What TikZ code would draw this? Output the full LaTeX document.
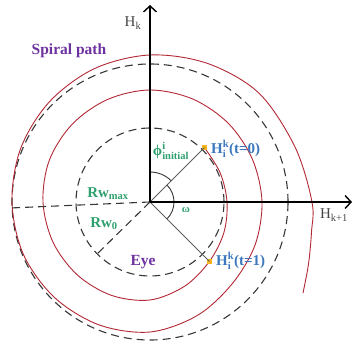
\documentclass[tikz,border=0pt]{standalone}
\usepackage{amsmath}
\usepackage{fontspec}
\setmainfont{Liberation Serif}
\usetikzlibrary{arrows.meta}
\definecolor{spiralred}{RGB}{178,40,52}
\definecolor{lblgreen}{RGB}{46,160,110}
\definecolor{lblblue}{RGB}{60,120,190}
\definecolor{lblpurple}{RGB}{110,50,160}
\definecolor{ptyellow}{RGB}{245,180,30}
\definecolor{dashgray}{RGB}{55,55,55}
\definecolor{axgray}{RGB}{70,70,70}
\tikzset{
  axisline/.style={line width=1.4pt,black,-{Straight Barb[length=6pt,width=13pt,line width=1.4pt]}},
  dashcirc/.style={dashgray,line width=1.1pt,dash pattern=on 8pt off 5pt},
  spiralline/.style={spiralred,line width=0.9pt},
  radline/.style={gray!75!black,line width=0.8pt},
  anglearc/.style={dashgray,line width=0.9pt},
  ptbox/.style={rectangle,fill=ptyellow,inner sep=0pt,minimum size=5pt},
  glabel/.style={text=lblgreen,font=\fontsize{15}{17}\selectfont\bfseries,inner sep=0pt},
  blabel/.style={text=lblblue,font=\fontsize{15}{17}\selectfont\bfseries,inner sep=0pt},
  plabel/.style={text=lblpurple,font=\fontsize{15.5}{17}\selectfont\bfseries,inner sep=0pt},
  axlabel/.style={text=axgray,font=\fontsize{15}{17}\selectfont,inner sep=0pt}
}
\begin{document}
\begin{tikzpicture}[x=1pt,y=1pt]
\useasboundingbox (-150,-145) rectangle (204,202);
% dashed circles
\draw[dashcirc] (0,0) circle[radius=138];
\draw[dashcirc] (0,0) circle[radius=74];
% spiral
\draw[spiralline] plot[smooth,tension=0.55] coordinates{
 (54.4,54.4) (70.2,29.1) (77,0) (73.9,-30.6) (59.4,-59.4) (34.8,-84.1) (0,-98)
 (-38.7,-93.3) (-72.8,-72.8) (-97.0,-40.2) (-107,0) (-100.7,41.7) (-77.8,77.8)
 (-42.5,102.5) (0,112) (42.7,103.0) (78.5,78.5) (102.5,42.5) (112,0)
 (104.9,-43.4) (82.0,-82.0) (47.1,-113.6) (0,-130) (-50.9,-122.9) (-95.5,-95.5)
 (-126.6,-52.4) (-138,0) (-129.3,53.6) (-100.4,100.4) (-55.3,133.5) (0,147)
 (57.4,138.6) (108.9,108.9) (145,55) (162,0) (161.5,-30) (158.5,-62) (153,-91)};
% nodes
\coordinate (O) at (0,0);
\coordinate (Ytop) at (0,197);
\coordinate (Xend) at (202,0);
\coordinate (RmaxEnd) at (-140,-6);
\coordinate (R0End) at (-53,-52);
\node[ptbox] (H0) at (54.4,54.4) {};
\node[ptbox] (H1) at (59.4,-59.4) {};
% radius lines
\draw[dashcirc] (O) -- (RmaxEnd);
\draw[dashcirc] (O) -- (R0End);
\draw[radline] (O) -- (H0.center);
\draw[radline] (O) -- (H1.center);
% angle arcs
\draw[anglearc] (0,30) arc[start angle=90,end angle=45,radius=30];
\draw[anglearc] (45:24) arc[start angle=45,end angle=-45,radius=24];
% axes
\draw[axisline] (O) -- (Ytop);
\draw[axisline] (O) -- (Xend);
% labels
\node[axlabel] (lHk) at (-17,179) {H\textsubscript{k}};
\node[axlabel] (lHk1) at (184,-13) {H\textsubscript{k+1}};
\node[plabel] (lspiral) at (-81,151) {Spiral path};
\node[plabel] (leye) at (-7,-60) {Eye};
\node[blabel,anchor=west] (lH0) at (61,53) {H$^{\text{k}}_{\text{i}}$(t=0)};
\node[blabel,anchor=west] (lH1) at (66,-59) {H$^{\text{k}}_{\text{i}}$(t=1)};
\node[glabel] (lphi) at (21,51) {$\text{ϕ}^{\text{i}}_{\text{initial}}$};
\node[glabel,font=\fontsize{11}{13}\selectfont\bfseries] (lomega) at (36,-8) {ω};
\node[glabel] (lrmax) at (-42,8) {Rw\textsubscript{max}};
\node[glabel] (lr0) at (-46,-22) {Rw\textsubscript{0}};
\end{tikzpicture}
\end{document}
